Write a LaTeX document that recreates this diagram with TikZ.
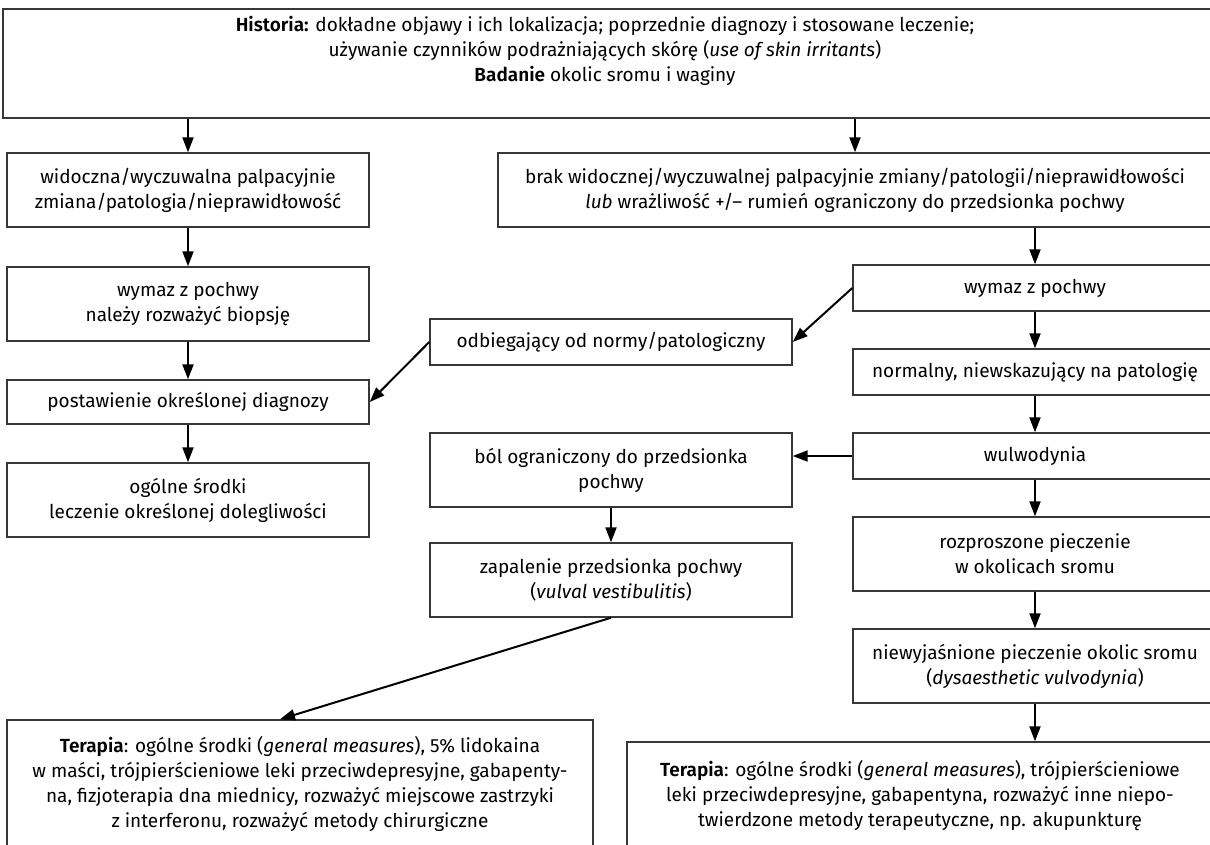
\documentclass[tikz,border=0pt]{standalone}
\usepackage{fontspec}
\setmainfont{Fira Sans}[BoldFont={* SemiBold}]
\usetikzlibrary{arrows.meta}
\definecolor{boxline}{RGB}{55,55,55}

\begin{document}
\begin{tikzpicture}[x=1pt, y=-1pt,
  box/.style={draw=boxline, line width=1.4pt, rectangle, align=center, inner sep=0pt, font=\fontsize{19}{25}\selectfont},
  flow/.style={-{Triangle[length=15pt, width=11pt]}, line width=2pt, black}]
\useasboundingbox (0,0) rectangle (1210,844);
\clip (0,0) rectangle (1210,844);
% Top: history and examination
\node[box, minimum width=1211, minimum height=109] (hist) at (608.5,63.5) {};
\node[font=\fontsize{19}{25}\selectfont, align=center, inner sep=0pt] (histtxt) at (605,51) {\textbf{Historia:} dokładne objawy i ich lokalizacja; poprzednie diagnozy i stosowane leczenie;\\ używanie czynników podrażniających skórę (\textit{use of skin irritants})\\ \textbf{Badanie} okolic sromu i waginy};
%
% Left column: visible change
\node[box, minimum width=362, minimum height=74] (vis) at (188,190) {widoczna/wyczuwalna palpacyjnie\\ zmiana/patologia/nieprawidłowość};
\node[box, minimum width=362, minimum height=74] (swab1) at (188,304) {wymaz z pochwy\\ należy rozważyć biopsję};
\node[box, minimum width=362, minimum height=44] (diag) at (188,402) {postawienie określonej diagnozy};
\node[box, minimum width=362, minimum height=74] (treat) at (188,500) {ogólne środki\\ leczenie określonej dolegliwości};
%
% Right column: no visible change
\node[box, minimum width=714, minimum height=74] (novis) at (855,190) {brak widocznej/wyczuwalnej palpacyjnie zmiany/patologii/nieprawidłowości\\ \textit{lub} wrażliwość +/-- rumień ograniczony do przedsionka pochwy};
\node[box, minimum width=364, minimum height=46] (swab2) at (1035,288) {wymaz z pochwy};
\node[box, minimum width=364, minimum height=46] (normal) at (1035,372) {normalny, niewskazujący na patologię};
\node[box, minimum width=364, minimum height=46] (vulvo) at (1035,456) {wulwodynia};
\node[box, minimum width=364, minimum height=74] (burn) at (1035,554) {rozproszone pieczenie\\ w okolicach sromu};
\node[box, minimum width=364, minimum height=74] (dys) at (1035,666) {niewyjaśnione pieczenie okolic sromu\\ (\textit{dysaesthetic vulvodynia})};
\node[box, minimum width=586, minimum height=108] (ther2) at (920,796) {\textbf{Terapia}: ogólne środki (\textit{general measures}), trójpierścieniowe\\ leki przeciwdepresyjne, gabapentyna, rozważyć inne niepo-\\ twierdzone metody terapeutyczne, np. akupunkturę};
%
% Middle column
\node[box, minimum width=362, minimum height=46] (abn) at (611,342) {odbiegający od normy/patologiczny};
\node[box, minimum width=362, minimum height=74] (pain) at (611,470) {ból ograniczony do przedsionka\\ pochwy};
\node[box, minimum width=362, minimum height=74] (vest) at (611,580) {zapalenie przedsionka pochwy\\ (\textit{vulval vestibulitis})};
\node[box, minimum width=586, minimum height=128] (ther1) at (300,784) {\textbf{Terapia}: ogólne środki (\textit{general measures}), 5\% lidokaina\\ w maści, trójpierścieniowe leki przeciwdepresyjne, gabapenty-\\ na, fizjoterapia dna miednicy, rozważyć miejscowe zastrzyki\\ z interferonu, rozważyć metody chirurgiczne};
%
% Arrows
\draw[flow] (hist.south -| vis.north) -- (vis.north);
\draw[flow] (hist.south -| novis.north) -- (novis.north);
\draw[flow] (vis) -- (swab1);
\draw[flow] (swab1) -- (diag);
\draw[flow] (diag) -- (treat);
\draw[flow] (novis.south -| swab2.north) -- (swab2.north);
\draw[flow] (swab2) -- (normal);
\draw[flow] (normal) -- (vulvo);
\draw[flow] (vulvo) -- (burn);
\draw[flow] (burn) -- (dys);
\draw[flow] (dys.south) -- (dys.south |- ther2.north);
\draw[flow] (swab2.west) -- (abn.east);
\draw[flow] (abn.west) -- (diag.east);
\draw[flow] (vulvo.west) -- (vulvo.west -| pain.east);
\draw[flow] (pain) -- (vest);
\draw[flow] (vest.south) -- ([xshift=-20pt]ther1.north);
\end{tikzpicture}
\end{document}
